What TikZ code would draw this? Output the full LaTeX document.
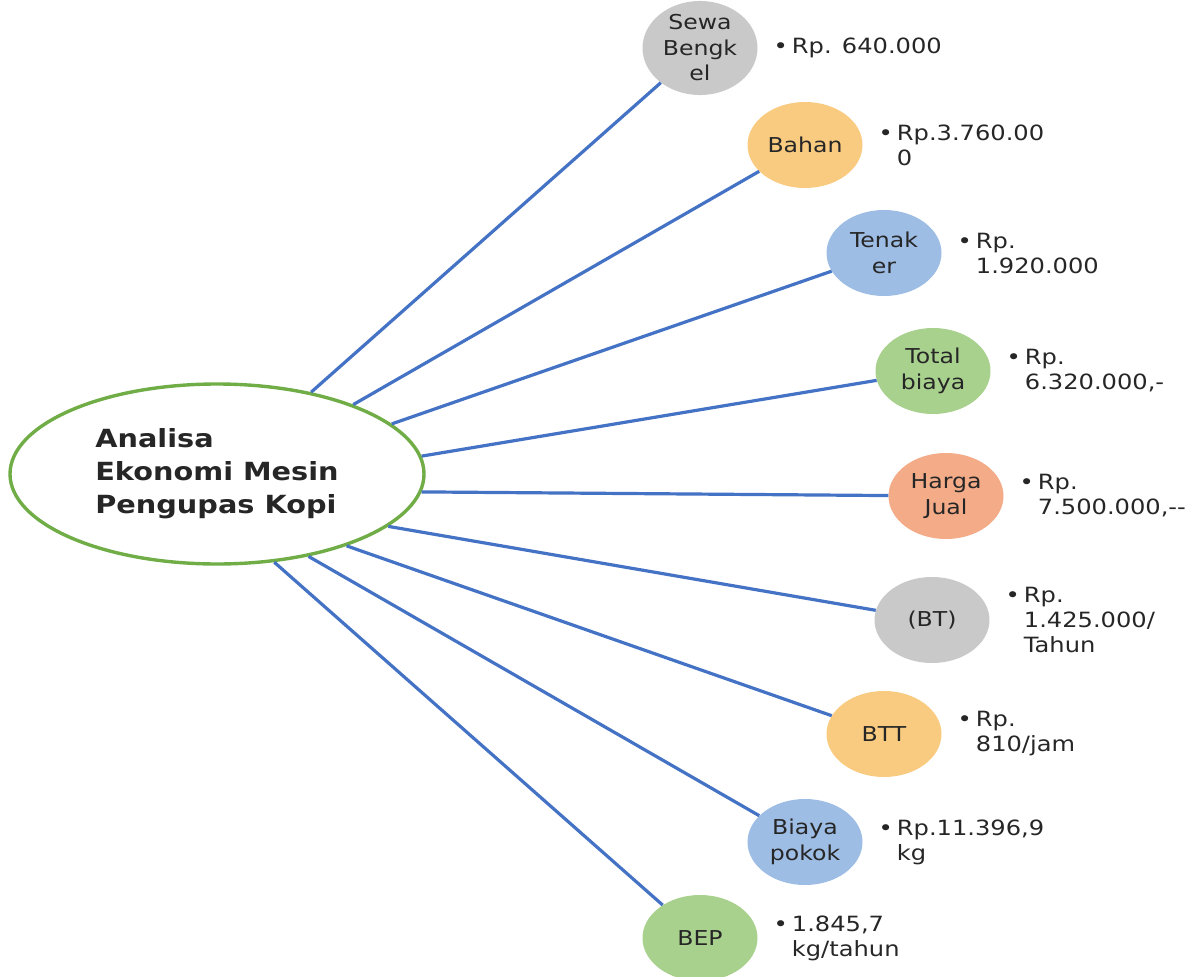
\documentclass[tikz,border=0pt]{standalone}
\usepackage{fontspec}
\setmainfont[FakeStretch=1.15]{DejaVu Sans}
\usepackage{tikz}
\usetikzlibrary{shapes,positioning}

\definecolor{linkblue}{HTML}{4472C4}
\definecolor{rimgreen}{HTML}{70AD47}
\definecolor{cgray}{HTML}{C9C9C9}
\definecolor{cgold}{HTML}{F9CB80}
\definecolor{cblue}{HTML}{9DBDE5}
\definecolor{cgreen}{HTML}{A9D18E}
\definecolor{csalmon}{HTML}{F4AB88}
\definecolor{ink}{HTML}{262626}

\begin{document}
\begin{tikzpicture}[
    x=1pt, y=-1pt,
    topic/.style={ellipse, minimum width=115pt, minimum height=86pt, inner sep=0pt, align=center, text=ink, font=\fontsize{20.5}{25.5}\selectfont},
    grey/.style={topic, fill=cgray},
    gold/.style={topic, fill=cgold},
    blue/.style={topic, fill=cblue},
    green/.style={topic, fill=cgreen},
    salmon/.style={topic, fill=csalmon},
    value/.style={inner sep=0pt, align=left, text=ink, font=\fontsize{21}{25}\selectfont},
    link/.style={draw=linkblue, line width=3.2pt}
]
    \useasboundingbox (0,0) rectangle (1200,977);

    % === CENTRE ===
    \node[ellipse, draw=rimgreen, line width=3.4pt, fill=white, minimum width=414pt, minimum height=180pt, inner sep=0pt, align=left, text=ink, font=\fontsize{25}{33}\selectfont\bfseries] (main) at (217,474) {Analisa\\Ekonomi Mesin\\Pengupas Kopi};

    % === COST ITEMS ===
    \node[grey] (sewa) at (700,48) {Sewa\\Bengk\\el};
    \node[gold] (bahan) at (805,145) {Bahan};
    \node[blue] (tenaker) at (884,253) {Tenak\\er};
    \node[green] (total) at (933,371) {Total\\biaya};
    \node[salmon] (harga) at (946,496) {Harga\\Jual};
    \node[grey] (bt) at (932,620) {(BT)};
    \node[gold] (btt) at (884,734) {BTT};
    \node[blue] (pokok) at (805,842) {Biaya\\pokok};
    \node[green] (bep) at (700,938) {BEP};

    % === VALUES ===
    \node[value, right=34pt of sewa] (vsewa) {\llap{\textbullet\hspace{4pt}}Rp. 640.000};
    \node[value, right=34pt of bahan] (vbahan) {\llap{\textbullet\hspace{4pt}}Rp.3.760.00\\0};
    \node[value, right=34pt of tenaker] (vtenaker) {\llap{\textbullet\hspace{4pt}}Rp.\\1.920.000};
    \node[value, right=34pt of total] (vtotal) {\llap{\textbullet\hspace{4pt}}Rp.\\6.320.000,-};
    \node[value, right=34pt of harga] (vharga) {\llap{\textbullet\hspace{4pt}}Rp.\\7.500.000,-{}-};
    \node[value, right=34pt of bt] (vbt) {\llap{\textbullet\hspace{4pt}}Rp.\\1.425.000/\\Tahun};
    \node[value, right=34pt of btt] (vbtt) {\llap{\textbullet\hspace{4pt}}Rp.\\810/jam};
    \node[value, right=34pt of pokok] (vpokok) {\llap{\textbullet\hspace{4pt}}Rp.11.396,9\\kg};
    \node[value, right=34pt of bep] (vbep) {\llap{\textbullet\hspace{4pt}}1.845,7\\kg/tahun};

    % === LINKS ===
    \draw[link] (main.41.6) -- (sewa);
    \draw[link] (main.27.6) -- (bahan);
    \draw[link] (main.16.1) -- (tenaker);
    \draw[link] (main.5.3) -- (total);
    \draw[link] (main.-5.3) -- (harga);
    \draw[link] (main.-17) -- (bt);
    \draw[link] (main.-29.1) -- (btt);
    \draw[link] (main.-42.8) -- (pokok);
    \draw[link] (main.-57.2) -- (bep);

\end{tikzpicture}
\end{document}
